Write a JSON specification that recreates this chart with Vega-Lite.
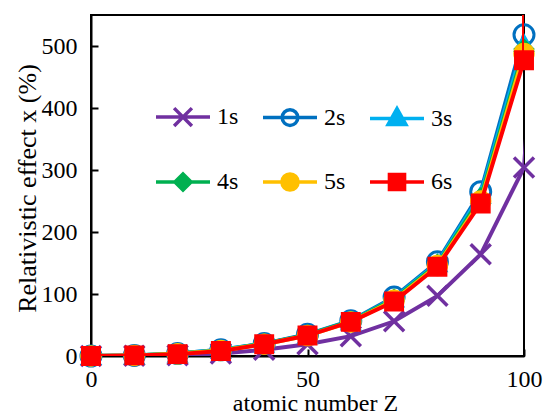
{
  "$schema": "https://vega.github.io/schema/vega-lite/v6.json",
  "width": 433,
  "height": 341,
  "autosize": {"type": "none"},
  "padding": {"left": 91, "top": 15, "right": 20, "bottom": 62},
  "background": "white",
  "config": {
    "font": "Liberation Serif",
    "view": {"stroke": "black", "strokeWidth": 2}
  },
  "data": {"values": [
    {"Z": 0, "series": "1s", "effect": 0}, {"Z": 10, "series": "1s", "effect": 0.3}, {"Z": 20, "series": "1s", "effect": 1.3}, {"Z": 30, "series": "1s", "effect": 4}, {"Z": 40, "series": "1s", "effect": 10}, {"Z": 50, "series": "1s", "effect": 19}, {"Z": 60, "series": "1s", "effect": 32}, {"Z": 70, "series": "1s", "effect": 56}, {"Z": 80, "series": "1s", "effect": 97}, {"Z": 90, "series": "1s", "effect": 164}, {"Z": 100, "series": "1s", "effect": 304}, {"Z": 101, "series": "1s", "effect": 405},
    {"Z": 0, "series": "2s", "effect": 0}, {"Z": 10, "series": "2s", "effect": 1}, {"Z": 20, "series": "2s", "effect": 4}, {"Z": 30, "series": "2s", "effect": 10}, {"Z": 40, "series": "2s", "effect": 20}, {"Z": 50, "series": "2s", "effect": 35}, {"Z": 60, "series": "2s", "effect": 57}, {"Z": 70, "series": "2s", "effect": 95}, {"Z": 80, "series": "2s", "effect": 152}, {"Z": 90, "series": "2s", "effect": 265}, {"Z": 100, "series": "2s", "effect": 518}, {"Z": 100.1, "series": "2s", "effect": 1000},
    {"Z": 0, "series": "3s", "effect": 0}, {"Z": 10, "series": "3s", "effect": 1}, {"Z": 20, "series": "3s", "effect": 4}, {"Z": 30, "series": "3s", "effect": 10}, {"Z": 40, "series": "3s", "effect": 20}, {"Z": 50, "series": "3s", "effect": 34}, {"Z": 60, "series": "3s", "effect": 56}, {"Z": 70, "series": "3s", "effect": 93}, {"Z": 80, "series": "3s", "effect": 150}, {"Z": 90, "series": "3s", "effect": 260}, {"Z": 100, "series": "3s", "effect": 505}, {"Z": 100.1, "series": "3s", "effect": 1000},
    {"Z": 0, "series": "4s", "effect": 0}, {"Z": 10, "series": "4s", "effect": 1}, {"Z": 20, "series": "4s", "effect": 4}, {"Z": 30, "series": "4s", "effect": 9}, {"Z": 40, "series": "4s", "effect": 20}, {"Z": 50, "series": "4s", "effect": 34}, {"Z": 60, "series": "4s", "effect": 56}, {"Z": 70, "series": "4s", "effect": 92}, {"Z": 80, "series": "4s", "effect": 148}, {"Z": 90, "series": "4s", "effect": 255}, {"Z": 100, "series": "4s", "effect": 495}, {"Z": 100.1, "series": "4s", "effect": 1000},
    {"Z": 0, "series": "5s", "effect": 0}, {"Z": 10, "series": "5s", "effect": 1}, {"Z": 20, "series": "5s", "effect": 3.5}, {"Z": 30, "series": "5s", "effect": 9}, {"Z": 40, "series": "5s", "effect": 19}, {"Z": 50, "series": "5s", "effect": 33}, {"Z": 60, "series": "5s", "effect": 55}, {"Z": 70, "series": "5s", "effect": 90}, {"Z": 80, "series": "5s", "effect": 146}, {"Z": 90, "series": "5s", "effect": 250}, {"Z": 100, "series": "5s", "effect": 488}, {"Z": 100.1, "series": "5s", "effect": 1000},
    {"Z": 0, "series": "6s", "effect": 0}, {"Z": 10, "series": "6s", "effect": 1}, {"Z": 20, "series": "6s", "effect": 3}, {"Z": 30, "series": "6s", "effect": 8}, {"Z": 40, "series": "6s", "effect": 19}, {"Z": 50, "series": "6s", "effect": 33}, {"Z": 60, "series": "6s", "effect": 55}, {"Z": 70, "series": "6s", "effect": 88}, {"Z": 80, "series": "6s", "effect": 144}, {"Z": 90, "series": "6s", "effect": 246}, {"Z": 100, "series": "6s", "effect": 477}, {"Z": 100.1, "series": "6s", "effect": 1000}
  ]},
  "encoding": {
    "x": {"field": "Z", "type": "quantitative", "scale": {"domain": [0, 100], "nice": false},
          "axis": {"values": [0, 50, 100], "title": "atomic number Z",
                   "domainColor": "black", "domainWidth": 2, "tickColor": "black", "tickWidth": 2, "tickSize": -7,
                   "grid": false, "labelFlush": false,
                   "labelFont": "Liberation Serif", "labelFontSize": 24, "labelColor": "black",
                   "titleFont": "Liberation Serif", "titleFontSize": 24, "titleFontWeight": "normal", "titleColor": "black",
                   "labelPadding": 18, "titlePadding": 0, "titleX": 224}},
    "y": {"field": "effect", "type": "quantitative", "scale": {"domain": [0, 550], "nice": false},
          "axis": {"values": [0, 100, 200, 300, 400, 500], "title": "Relativistic effect  x (%)",
                   "domainColor": "black", "domainWidth": 2, "tickColor": "black", "tickWidth": 2, "tickSize": -7,
                   "grid": false,
                   "labelFont": "Liberation Serif", "labelFontSize": 24, "labelColor": "black",
                   "titleFont": "Liberation Serif", "titleFontSize": 26, "titleFontWeight": "normal", "titleColor": "black",
                   "labelPadding": 21, "titlePadding": 1, "titleY": 173}}
  },
  "layer": [
    {"transform": [{"filter": "datum.series === '1s'"}], "mark": {"type": "line", "strokeWidth": 4, "clip": true, "color": "#7030A0"}},
    {"transform": [{"filter": "datum.series === '1s' && datum.Z <= 100"}], "mark": {"type": "point", "shape": "M-1,-1L1,1M1,-1L-1,1", "size": 400, "strokeWidth": 3.5, "stroke": "#7030A0", "fill": "transparent", "opacity": 1}},
    {"transform": [{"filter": "datum.series === '2s'"}], "mark": {"type": "line", "strokeWidth": 4, "clip": true, "color": "#0070C0"}},
    {"transform": [{"filter": "datum.series === '2s' && datum.Z <= 100"}], "mark": {"type": "point", "shape": "circle", "size": 400, "strokeWidth": 3, "stroke": "#0070C0", "fill": "transparent", "opacity": 1}},
    {"transform": [{"filter": "datum.series === '3s'"}], "mark": {"type": "line", "strokeWidth": 4, "clip": true, "color": "#00B0F0"}},
    {"transform": [{"filter": "datum.series === '3s' && datum.Z <= 100"}], "mark": {"type": "point", "shape": "triangle-up", "size": 380, "strokeWidth": 1.5, "stroke": "#00B0F0", "fill": "#00B0F0", "opacity": 1}},
    {"transform": [{"filter": "datum.series === '4s'"}], "mark": {"type": "line", "strokeWidth": 4, "clip": true, "color": "#00B050"}},
    {"transform": [{"filter": "datum.series === '4s' && datum.Z <= 100"}], "mark": {"type": "point", "shape": "diamond", "size": 380, "strokeWidth": 1.5, "stroke": "#00B050", "fill": "#00B050", "opacity": 1}},
    {"transform": [{"filter": "datum.series === '5s'"}], "mark": {"type": "line", "strokeWidth": 4, "clip": true, "color": "#FFC000"}},
    {"transform": [{"filter": "datum.series === '5s' && datum.Z <= 100"}], "mark": {"type": "point", "shape": "circle", "size": 400, "strokeWidth": 1.5, "stroke": "#FFC000", "fill": "#FFC000", "opacity": 1}},
    {"transform": [{"filter": "datum.series === '6s'"}], "mark": {"type": "line", "strokeWidth": 4, "clip": true, "color": "#FF0000"}},
    {"transform": [{"filter": "datum.series === '6s' && datum.Z <= 100"}], "mark": {"type": "point", "shape": "square", "size": 340, "strokeWidth": 1.5, "stroke": "#FF0000", "fill": "#FF0000", "opacity": 1}},
    {
      "transform": [{"filter": "false"}],
      "mark": {"type": "point", "opacity": 1},
      "encoding": {
        "stroke": {"field": "series", "type": "nominal",
                   "scale": {"domain": ["1s", "2s", "3s", "4s", "5s", "6s"], "range": ["#7030A0", "#0070C0", "#00B0F0", "#00B050", "#FFC000", "#FF0000"]},
                   "legend": {"orient": "none", "legendX": 63, "legendY": 73, "columns": 3, "direction": "horizontal",
                              "padding": 0, "symbolSize": 2916, "symbolStrokeWidth": 3.5,
                              "labelFont": "Liberation Serif", "labelFontSize": 24, "labelColor": "black",
                              "labelOffset": 5, "columnPadding": 17, "rowPadding": 20, "title": null}},
        "fill": {"field": "series", "type": "nominal",
                 "scale": {"domain": ["1s", "2s", "3s", "4s", "5s", "6s"], "range": ["transparent", "transparent", "#00B0F0", "#00B050", "#FFC000", "#FF0000"]}},
        "shape": {"field": "series", "type": "nominal",
                  "scale": {"domain": ["1s", "2s", "3s", "4s", "5s", "6s"], "range": [
                    "M-1,0H1M-0.33,-0.33L0.33,0.33M0.33,-0.33L-0.33,0.33",
                    "M-1,0H1M0.29,0A0.29,0.29,0,1,1,-0.29,0A0.29,0.29,0,1,1,0.29,0Z",
                    "M-1,0H1M0,-0.37L0.33,0.22L-0.33,0.22Z",
                    "M-1,0H1M0,-0.3L0.3,0L0,0.3L-0.3,0Z",
                    "M-1,0H1M0.3,0A0.3,0.3,0,1,1,-0.3,0A0.3,0.3,0,1,1,0.3,0Z",
                    "M-1,0H1M-0.28,-0.28H0.28V0.28H-0.28Z"
                  ]}}
      }
    }
  ]
}
